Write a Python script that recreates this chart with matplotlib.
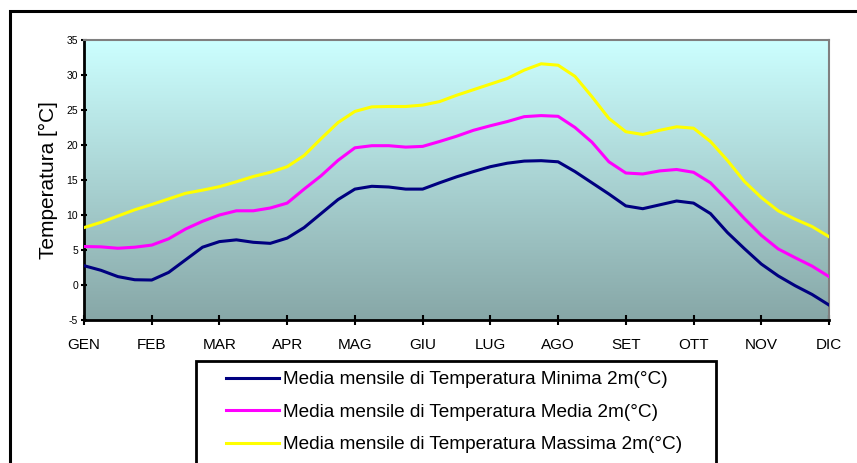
import numpy as np
import matplotlib.pyplot as plt
from matplotlib.patches import Rectangle
from matplotlib.colors import LinearSegmentedColormap

plt.rcParams['font.family'] = ['Liberation Sans', 'DejaVu Sans']
plt.rcParams['axes.unicode_minus'] = False

# mesi
mesi = ['GEN', 'FEB', 'MAR', 'APR', 'MAG', 'GIU', 'LUG', 'AGO', 'SET', 'OTT', 'NOV', 'DIC']

# valori letti ogni quarto di mese (da GEN a DIC)
t_min = [2.76, 2.1, 1.2, 0.75, 0.71, 1.8, 3.6, 5.4, 6.2, 6.45, 6.1, 5.95,
         6.7, 8.2, 10.2, 12.2, 13.7, 14.1, 14.0, 13.7, 13.7, 14.6, 15.45, 16.2,
         16.9, 17.4, 17.7, 17.76, 17.6, 16.2, 14.6, 13.0, 11.3, 10.9, 11.45, 12.0,
         11.7, 10.2, 7.5, 5.2, 3.0, 1.3, -0.1, -1.35, -2.86]
t_med = [5.5, 5.45, 5.25, 5.4, 5.7, 6.6, 8.0, 9.1, 10.0, 10.6, 10.6, 11.0,
         11.7, 13.7, 15.6, 17.8, 19.6, 19.9, 19.9, 19.7, 19.8, 20.5, 21.25, 22.1,
         22.75, 23.35, 24.05, 24.2, 24.1, 22.5, 20.4, 17.6, 16.0, 15.86, 16.3, 16.5,
         16.1, 14.6, 12.1, 9.5, 7.1, 5.15, 3.9, 2.7, 1.2]
t_max = [8.2, 8.95, 9.85, 10.75, 11.5, 12.3, 13.1, 13.55, 14.05, 14.75, 15.5, 16.1,
         16.9, 18.5, 20.9, 23.2, 24.8, 25.45, 25.5, 25.5, 25.7, 26.2, 27.1, 27.9,
         28.7, 29.5, 30.7, 31.6, 31.4, 29.8, 26.9, 23.8, 21.9, 21.5, 22.1, 22.6,
         22.4, 20.5, 17.8, 14.8, 12.5, 10.6, 9.4, 8.35, 6.9]

etichette = ['Media mensile di Temperatura Minima 2m(°C)',
             'Media mensile di Temperatura Media 2m(°C)',
             'Media mensile di Temperatura Massima 2m(°C)']

W, H = 857, 463
fig = plt.figure(figsize=(W / 100, H / 100), dpi=100)
ax = fig.add_axes([84 / W, 1 - 320 / H, (829 - 84) / W, 280 / H])

x = np.linspace(0, 11, len(t_min))

# sfondo sfumato
cmap = LinearSegmentedColormap.from_list('sf', ['#87a7a7', '#ccffff'])
grad = np.linspace(0, 1, 256).reshape(-1, 1)
ax.imshow(grad, cmap=cmap, aspect='auto', origin='lower',
          extent=[0, 11, -5, 35], zorder=0)

l1, = ax.plot(x, t_min, color='#000080', lw=2.2, zorder=3)
l2, = ax.plot(x, t_med, color='#ff00ff', lw=2.2, zorder=3)
l3, = ax.plot(x, t_max, color='#ffff00', lw=2.2, zorder=3)

ax.set_xlim(0, 11)
ax.set_ylim(-5, 35)
ax.set_xticks(range(12))
ax.set_xticklabels(mesi, fontsize=11)
ax.set_yticks(range(-5, 36, 5))
ax.tick_params(axis='y', labelsize=7.5, direction='inout', length=4.5, width=1.5, pad=2)
ax.tick_params(axis='x', direction='inout', length=7.5, width=1.5, pad=9)
ax.set_ylabel('Temperatura [°C]', fontsize=15, labelpad=6)

for s in ['left', 'bottom']:
    ax.spines[s].set_linewidth(2)
    ax.spines[s].set_color('black')
for s in ['top', 'right']:
    ax.spines[s].set_linewidth(1.5)
    ax.spines[s].set_color('#808080')

# cornice esterna
fig.patches.append(Rectangle((10 / W, -0.1), 1.2, 1.1 - 11 / H, transform=fig.transFigure,
                             fill=False, edgecolor='black', linewidth=2.2))

# legenda
fig.patches.append(Rectangle((196 / W, -0.1), (716 - 196) / W, 0.1 + 1 - 361 / H,
                             transform=fig.transFigure, fill=False,
                             edgecolor='black', linewidth=2))
fig.legend([l1, l2, l3], etichette, loc='upper left',
           bbox_to_anchor=(226 / W, 1 - 371 / H), frameon=False, fontsize=13.7,
           borderpad=0, borderaxespad=0, handlelength=2.8, handletextpad=0.2,
           labelspacing=0.8)

plt.savefig('out.png', dpi=100)
